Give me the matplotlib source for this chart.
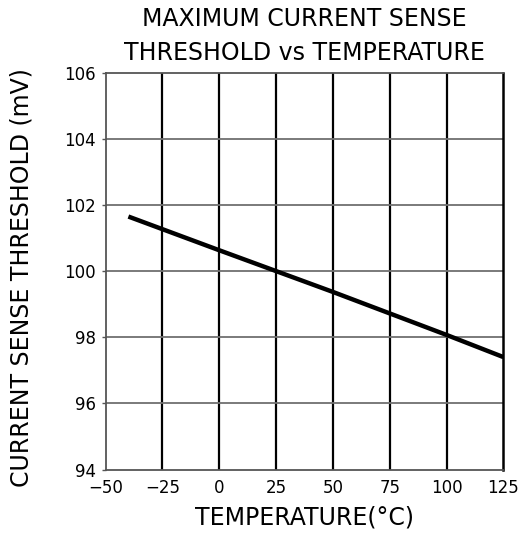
import matplotlib
matplotlib.use("Agg")
import matplotlib.pyplot as plt

# Data
temperature = [-40, 0, 25, 50, 75, 100, 125]
threshold = [101.65, 100.63, 100.0, 99.37, 98.72, 98.07, 97.4]

x_ticks = [-50, -25, 0, 25, 50, 75, 100, 125]
y_ticks = [94, 96, 98, 100, 102, 104, 106]

plt.rcParams['font.family'] = ['DejaVu Sans']

fig = plt.figure(figsize=(5.31, 5.33), dpi=100)
ax = fig.add_axes([0.199, 0.1191, 0.749, 0.7445])

ax.set_xlim(-50, 125)
ax.set_ylim(94, 106)
ax.set_xticks(x_ticks)
ax.set_yticks(y_ticks)
ax.set_xticklabels([str(t).replace('-', '\u2212') for t in x_ticks], fontsize=12)
ax.set_yticklabels([str(t) for t in y_ticks], fontsize=12)

# grid: vertical black, horizontal gray
for t in x_ticks[1:-1]:
    ax.axvline(t, color='black', lw=1.6, zorder=1)
for t in y_ticks[1:-1]:
    ax.axhline(t, color='#707070', lw=1.3, zorder=1)

ax.plot(temperature, threshold, color='black', lw=3.2, solid_capstyle='butt', zorder=3)

for side in ['left', 'top', 'bottom']:
    ax.spines[side].set_color('#555555')
    ax.spines[side].set_linewidth(1.3)
ax.spines['right'].set_color('black')
ax.spines['right'].set_linewidth(1.8)

ax.tick_params(axis='x', length=0, pad=7)
ax.tick_params(axis='y', length=3, width=1, pad=4, color='#555555')

ax.set_xlabel('TEMPERATURE(\u00b0C)', fontsize=17, labelpad=6)
ax.set_ylabel('CURRENT SENSE THRESHOLD (mV)', fontsize=17, labelpad=22)
ax.yaxis.label.set_y(0.485)
ax.set_title('MAXIMUM CURRENT SENSE\nTHRESHOLD vs TEMPERATURE', fontsize=17,
             linespacing=1.55, pad=9)

fig.savefig('out.png', dpi=100)
